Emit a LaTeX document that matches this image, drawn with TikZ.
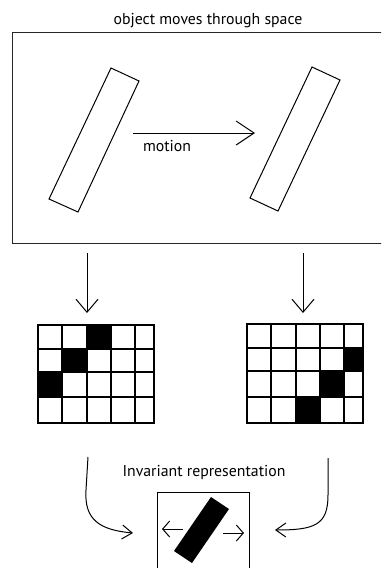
\documentclass[tikz,border=0pt]{standalone}
\usepackage{fontspec}
\setmainfont{PT Sans}
\usetikzlibrary{arrows.meta}

\begin{document}
\begin{tikzpicture}[x=1pt,y=-1pt,line width=1pt,
  lbl/.style={font=\fontsize{15.8}{18}\selectfont,inner sep=0pt},
  frame/.style={draw,inner sep=0pt,anchor=north west},
  bigtip/.style={-{Straight Barb[length=18pt,width=24pt]}},
  downtip/.style={-{Straight Barb[length=13pt,width=22pt]}},
  curvetip/.style={-{Straight Barb[length=10pt,width=14pt]}},
  smalltip/.style={-{Straight Barb[length=7pt,width=16pt]}},
  gridline/.style={line width=1.1pt}]
\useasboundingbox (0,0) rectangle (381,568);
\clip (0,0) rectangle (381,568);

% title and the scene box (its right side runs off the page)
\node[lbl] (title) at (208,21) {object moves through space};
\node[frame,minimum width=380,minimum height=211,draw=black!85] (space) at (12,32) {};

% the bar, before and after the move
\draw (111,68) -- (139,81) -- (78,212) -- (49,199) -- cycle;
\draw (312,67) -- (340,80) -- (278,211) -- (250,198) -- cycle;

\coordinate (m0) at (133,133);
\coordinate (m1) at (255,133);
\draw[bigtip] (m0) -- (m1);
\node[lbl] (motion) at (167,146) {motion};

% pixel grids
\node[frame,minimum width=115,minimum height=97] (gridL) at (38,325) {};
\node[frame,minimum width=115,minimum height=98] (gridR) at (247,324) {};

\fill (87,325) rectangle (111,349);
\fill (62,349) rectangle (87,372);
\fill (38,372) rectangle (62,397);
\foreach \x in {62,87,111,135} \draw[gridline] (\x,325) -- (\x,422);
\foreach \y in {349,372,397} \draw[gridline] (38,\y) -- (153,\y);
\draw[gridline] (gridL.north west) rectangle (gridL.south east);

\fill (344,348) rectangle (363,371);
\fill (320,371) rectangle (344,397);
\fill (296,397) rectangle (320,422);
\foreach \x in {271,296,320,344} \draw[gridline] (\x,324) -- (\x,422);
\foreach \y in {348,371,397} \draw[gridline] (247,\y) -- (362,\y);
\draw[gridline] (gridR.north west) rectangle (gridR.south east);

% sampling arrows
\coordinate (dL0) at (87,253);
\coordinate (dL1) at (87,313);
\coordinate (dR0) at (303,253);
\coordinate (dR1) at (303,313);
\draw[downtip] (dL0) -- (dL1);
\draw[downtip] (dR0) -- (dR1);

% invariant representation
\node[lbl] (inv) at (204,472) {Invariant representation};
\node[frame,minimum width=92,minimum height=90] (invbox) at (157,492) {};
\fill (211,497) -- (229,509) -- (192,563) -- (174,551) -- cycle;
\coordinate (al0) at (183,529);
\coordinate (al1) at (162,529);
\coordinate (ar0) at (223,533);
\coordinate (ar1) at (244,533);
\draw[smalltip] (al0) -- (al1);
\draw[smalltip] (ar0) -- (ar1);

\coordinate (cL0) at (88,457);
\coordinate (cL1) at (133,533);
\coordinate (cR0) at (328,458);
\coordinate (cR1) at (275,530);
\draw[curvetip] (cL0) -- (86,490) .. controls (84,520) and (100,530) .. (cL1);
\draw[curvetip] (cR0) -- (328,495) .. controls (328,525) and (315,530) .. (cR1);
\end{tikzpicture}
\end{document}
